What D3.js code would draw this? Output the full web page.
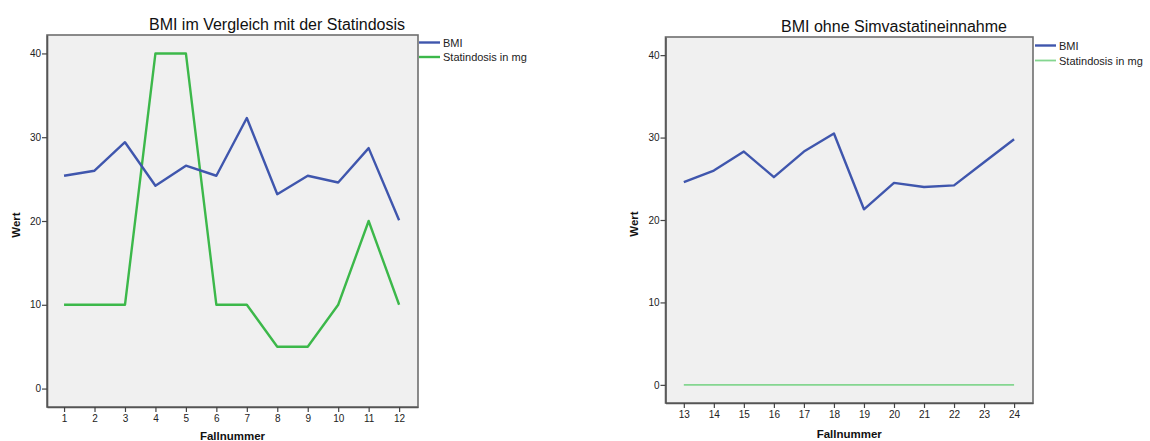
<!DOCTYPE html>
<html>
<head>
<meta charset="utf-8">
<script src="https://cdn.jsdelivr.net/npm/d3@7"></script>
<style>
  html, body { margin: 0; padding: 0; background: #fff; }
  svg { display: block; font-family: "Liberation Sans", Arial, sans-serif; }
</style>
</head>
<body>
<svg id="chart" width="1150" height="441"></svg>
<script>
// ---- data ----
const casesA = [1, 2, 3, 4, 5, 6, 7, 8, 9, 10, 11, 12];
const bmiA = [25.4, 26.0, 29.4, 24.2, 26.6, 25.4, 32.3, 23.2, 25.4, 24.6, 28.7, 20.1];
const statinA = [10, 10, 10, 40, 40, 10, 10, 5, 5, 10, 20, 10];

const casesB = [13, 14, 15, 16, 17, 18, 19, 20, 21, 22, 23, 24];
const bmiB = [24.6, 26.0, 28.3, 25.2, 28.3, 30.5, 21.3, 24.5, 24.0, 24.2, 27.0, 29.8];
const statinB = [0, 0, 0, 0, 0, 0, 0, 0, 0, 0, 0, 0];

const yTicks = [0, 10, 20, 30, 40];
const titles = ["BMI im Vergleich mit der Statindosis", "BMI ohne Simvastatineinnahme"];
const seriesNames = ["BMI", "Statindosis in mg"];
const xLabel = "Fallnummer";
const yLabel = "Wert";

const svg = d3.select("#chart");

function drawChart(opt) {
  const g = svg.append("g");
  const x = d3.scaleLinear().domain(opt.xDomain).range([opt.left, opt.right]);
  const y = d3.scaleLinear().domain([-2.2, 42.2]).range([opt.bottom, opt.top]);

  // plot background
  g.append("rect")
    .attr("x", opt.left).attr("y", opt.top)
    .attr("width", opt.right - opt.left).attr("height", opt.bottom - opt.top)
    .attr("fill", "#f0f0f0").attr("stroke", "#6e6e6e").attr("stroke-width", 1.6);

  // axes
  const yAxis = g.append("g").attr("transform", `translate(${opt.left},0)`)
    .call(d3.axisLeft(y).tickValues(yTicks).tickSizeInner(5).tickSizeOuter(0).tickPadding(1));
  const xAxis = g.append("g").attr("transform", `translate(0,${opt.bottom})`)
    .call(d3.axisBottom(x).tickValues(opt.cases).tickSizeInner(5).tickSizeOuter(0).tickPadding(3));
  [yAxis, xAxis].forEach(a => {
    a.select(".domain").attr("stroke", "#555").attr("stroke-width", 1.6);
    a.selectAll(".tick line").attr("stroke", "#444").attr("stroke-width", 1.2);
    a.selectAll(".tick text").attr("fill", "#222").style("font-size", "10px")
      .style("font-family", "'Liberation Sans', Arial, sans-serif");
  });

  const line = d3.line().x(d => x(d[0])).y(d => y(d[1]));

  g.append("path")
    .datum(opt.cases.map((c, i) => [c, opt.stat[i]]))
    .attr("d", line).attr("fill", "none")
    .attr("stroke", opt.statColor).attr("stroke-width", opt.statWidth)
    .attr("stroke-linejoin", "round");
  g.append("path")
    .datum(opt.cases.map((c, i) => [c, opt.bmi[i]]))
    .attr("d", line).attr("fill", "none")
    .attr("stroke", "#3f56ad").attr("stroke-width", 2.4)
    .attr("stroke-linejoin", "round");

  // title
  g.append("text").attr("x", opt.titleX).attr("y", opt.titleY)
    .attr("text-anchor", "middle").style("font-size", "16px").attr("fill", "#111")
    .text(opt.title);

  // axis labels
  g.append("text")
    .attr("transform", `translate(${opt.yLabelX},${opt.yLabelY}) rotate(-90)`)
    .attr("text-anchor", "middle").style("font-size", "11.5px").style("font-weight", "bold")
    .attr("fill", "#111").text(yLabel);
  g.append("text").attr("x", (opt.left + opt.right) / 2).attr("y", opt.xLabelY)
    .attr("text-anchor", "middle").style("font-size", "11.5px").style("font-weight", "bold")
    .attr("fill", "#111").text(xLabel);

  // legend
  const legColors = ["#3f56ad", opt.statColor];
  const legWidths = [2.4, opt.statWidth];
  seriesNames.forEach((name, i) => {
    const ly = opt.legY[i];
    g.append("line").attr("x1", opt.legX).attr("x2", opt.legX + 21)
      .attr("y1", ly).attr("y2", ly)
      .attr("stroke", legColors[i]).attr("stroke-width", legWidths[i]);
    g.append("text").attr("x", opt.legX + 24).attr("y", ly + 4)
      .style("font-size", "11px").attr("fill", "#222").text(name);
  });
}

drawChart({
  cases: casesA, bmi: bmiA, stat: statinA,
  xDomain: [0.44, 12.62],
  left: 47, right: 418, top: 35, bottom: 407,
  title: titles[0], titleX: 277, titleY: 30,
  yLabelX: 20, yLabelY: 225, xLabelY: 440,
  legX: 419, legY: [42.5, 57],
  statColor: "#3cb84a", statWidth: 2.4
});

drawChart({
  cases: casesB, bmi: bmiB, stat: statinB,
  xDomain: [12.39, 24.63],
  left: 665.5, right: 1033, top: 37, bottom: 403,
  title: titles[1], titleX: 894, titleY: 32,
  yLabelX: 638, yLabelY: 224, xLabelY: 438,
  legX: 1035, legY: [45.5, 60.5],
  statColor: "#84d690", statWidth: 1.8
});
</script>
</body>
</html>
